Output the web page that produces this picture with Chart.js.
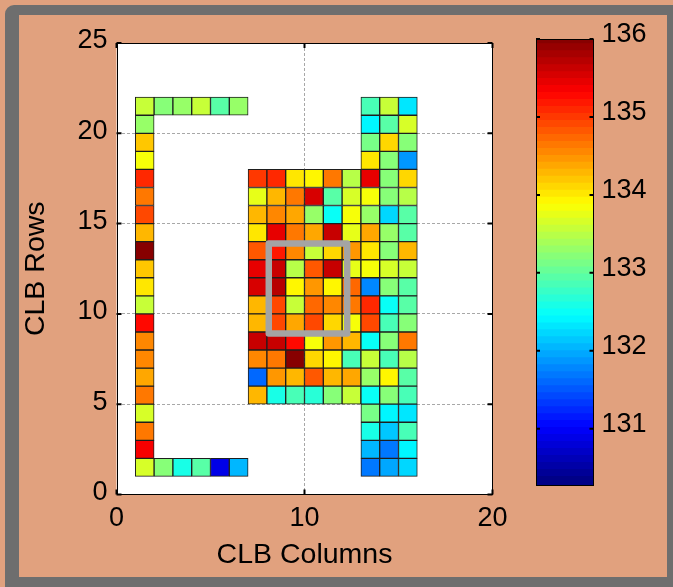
<!DOCTYPE html>
<html>
<head>
<meta charset="utf-8">
<script src="https://cdn.jsdelivr.net/npm/chart.js@4/dist/chart.umd.min.js"></script>
<style>
  html, body { margin: 0; padding: 0; }
  body { width: 673px; height: 587px; background: rgb(225,161,126); position: relative; overflow: hidden; }
  #frame { position: absolute; left: 5px; top: 5px; width: 668px; height: 582px; box-sizing: border-box;
           border-style: solid; border-color: #6e6e6e; border-width: 10px 6px 10px 14px; border-top-left-radius: 9px; }
  #main { position: absolute; left: 0; top: 0; }
  #cbar { position: absolute; left: 520px; top: 0; }
</style>
</head>
<body>
<div id="frame"></div>
<canvas id="main" width="520" height="587"></canvas>
<canvas id="cbar" width="153" height="587"></canvas>
<script>
// ---------------- DATA ----------------
// colour limits of the colorbar
const colorLimits = [130.27, 136.0];
const colorbarTicks = [131, 132, 133, 134, 135, 136];
const xTicks = [0, 10, 20];
const yTicks = [0, 5, 10, 15, 20, 25];

// left column (CLB column 1), rows 1..21 from bottom to top
const leftCol = [133.62, 135.35, 134.57, 133.64, 134.57, 134.35, 134.5, 134.5, 135.28, 133.56,
                 133.95, 134.2, 136.0, 134.28, 134.92, 134.64, 135.07, 133.8, 134.13, 133.28, 133.56];
// bottom row (row 1), columns 2..6
const bottomRow = [133.2, 132.56, 132.92, 130.84, 131.99];
// top row (row 21), columns 2..6
const topRow = [133.2, 133.28, 133.56, 132.92, 133.28];

// middle block, columns 7..12, rows 17 (first) down to 5 (last)
const midRow17 = [135.0, 135.07, 133.99, 133.92, 134.57, 133.42];
const midRow16 = [133.71, 134.28, 134.64, 135.5, 132.92, 133.64];
const midRow15 = [134.21, 134.5, 134.35, 133.28, 132.42, 133.78];
const midRow14 = [133.99, 135.42, 134.64, 134.35, 135.57, 133.71];
const midRow13 = [134.78, 135.14, 134.5, 133.56, 134.06, 134.42];
const midRow12 = [135.42, 135.6, 133.45, 134.78, 135.64, 133.71];
const midRow11 = [135.5, 135.7, 133.88, 134.42, 133.92, 134.71];
const midRow10 = [134.21, 134.92, 133.58, 134.71, 134.5, 134.57];
const midRow9  = [134.21, 134.85, 134.35, 134.92, 134.06, 133.78];
const midRow8  = [135.57, 135.64, 135.21, 133.85, 134.42, 134.21];
const midRow7  = [134.5, 134.64, 136.0, 134.06, 133.92, 132.78];
const midRow6  = [131.56, 134.42, 134.28, 134.78, 134.21, 134.35];
const midRow5  = [134.28, 132.56, 132.78, 132.63, 133.14, 133.56];

// right block, columns 13..15, rows 21 (first) down to 1 (last)
const rightBlock = [
  [132.78, 133.56, 132.28],
  [132.35, 132.92, 133.64],
  [133.07, 134.06, 133.14],
  [133.99, 133.14, 131.85],
  [135.42, 133.2, 134.06],
  [133.85, 133.2, 133.45],
  [133.28, 132.2, 132.92],
  [134.35, 133.28, 132.92],
  [133.99, 133.2, 134.21],
  [133.85, 133.64, 133.56],
  [131.78, 133.14, 132.9],
  [135.1, 132.45, 132.9],
  [134.92, 132.85, 133.2],
  [132.45, 133.14, 134.57],
  [133.56, 132.78, 133.42],
  [133.28, 133.92, 132.92],
  [132.49, 133.14, 132.78],
  [133.07, 132.35, 132.28],
  [132.56, 132.13, 132.78],
  [132.06, 131.7, 132.35],
  [131.63, 131.92, 132.2]
];

// highlighted region (grey box) corners in data units
const boxX = [8.1, 12.27, 12.27, 8.1, 8.1];
const boxY = [8.92, 8.92, 13.9, 13.9, 8.92];

// ---------------- COLOUR MAP ----------------
const NLEV = 64;
function clamp01(v) { return Math.max(0, Math.min(1, v)); }
function jet(t) {
  const r = clamp01(1.5 - Math.abs(4 * t - 3));
  const g = clamp01(1.5 - Math.abs(4 * t - 2));
  const b = clamp01(1.5 - Math.abs(4 * t - 1));
  return 'rgb(' + Math.round(r * 255) + ',' + Math.round(g * 255) + ',' + Math.round(b * 255) + ')';
}
function levelColor(i) { return jet((i + 0.5) / NLEV); }
function valueColor(v) {
  const [lo, hi] = colorLimits;
  let i = Math.floor((v - lo) / (hi - lo) * NLEV);
  i = Math.max(0, Math.min(NLEV - 1, i));
  return levelColor(i);
}

// ---------------- BUILD CELLS ----------------
const cells = [];
const cellColors = [];
function addCell(col, row, v) {
  cells.push({ x: col + 0.5, y: [row, row + 1] });
  cellColors.push(valueColor(v));
}
leftCol.forEach((v, i) => addCell(1, 1 + i, v));
bottomRow.forEach((v, i) => addCell(2 + i, 1, v));
topRow.forEach((v, i) => addCell(2 + i, 21, v));
const midRows = [midRow17, midRow16, midRow15, midRow14, midRow13, midRow12, midRow11,
                 midRow10, midRow9, midRow8, midRow7, midRow6, midRow5];
midRows.forEach((row, r) => row.forEach((v, c) => addCell(7 + c, 17 - r, v)));
rightBlock.forEach((row, r) => row.forEach((v, c) => addCell(13 + c, 21 - r, v)));

const boxPts = boxX.map((x, i) => ({ x: x, y: boxY[i] }));

const FONT = { family: "'Liberation Sans', Arial, Helvetica, sans-serif", size: 27 };
const TITLE_FONT = { family: "'Liberation Sans', Arial, Helvetica, sans-serif", size: 28.5 };

// plugin: white plot background, black box, inward tick marks
const boxPlugin = {
  id: 'boxPlugin',
  beforeDraw(chart, args, opts) {
    const a = chart.chartArea, ctx = chart.ctx;
    ctx.save();
    ctx.fillStyle = opts.fill || '#fff';
    ctx.fillRect(a.left, a.top, a.right - a.left, a.bottom - a.top);
    ctx.restore();
  },
  afterDraw(chart, args, opts) {
    const a = chart.chartArea, ctx = chart.ctx;
    ctx.save();
    ctx.strokeStyle = '#000';
    ctx.lineWidth = 1;
    ctx.strokeRect(Math.round(a.left) + 0.5, Math.round(a.top) + 0.5,
                   Math.round(a.right - a.left) - 1, Math.round(a.bottom - a.top) - 1);
    const L = opts.tick || 4;
    ctx.lineWidth = 2;
    ctx.beginPath();
    Object.values(chart.scales).forEach(s => {
      if (!s.options.display) return;
      s.ticks.forEach(t => {
        const p = s.getPixelForValue(t.value);
        if (s.isHorizontal()) {
          ctx.moveTo(p, a.bottom); ctx.lineTo(p, a.bottom - L);
          ctx.moveTo(p, a.top); ctx.lineTo(p, a.top + L);
        } else {
          ctx.moveTo(a.left, p); ctx.lineTo(a.left + L, p);
          ctx.moveTo(a.right, p); ctx.lineTo(a.right - L, p);
        }
      });
    });
    ctx.stroke();
    ctx.restore();
  }
};

new Chart(document.getElementById('main'), {
  type: 'bar',
  data: {
    datasets: [
      { type: 'line', data: boxPts, borderColor: '#a4a4a4', borderWidth: 6.5, pointRadius: 0,
        borderJoinStyle: 'round', borderCapStyle: 'round', tension: 0, order: 0 },
      { type: 'bar', data: cells, backgroundColor: cellColors, borderColor: '#1e1e1e', borderWidth: 1,
        borderSkipped: false, barPercentage: 1, categoryPercentage: 1, order: 1 }
    ]
  },
  plugins: [boxPlugin],
  options: {
    responsive: false, animation: false, devicePixelRatio: 1,
    layout: { padding: { top: 43, right: 27.5, left: 0, bottom: 0 } },
    plugins: { legend: { display: false }, tooltip: { enabled: false }, boxPlugin: { tick: 5 } },
    scales: {
      x: {
        type: 'linear', min: xTicks[0], max: xTicks[xTicks.length - 1], offset: false,
        afterBuildTicks: s => { s.ticks = xTicks.map(v => ({ value: v })); },
        ticks: { font: FONT, color: '#000', padding: 8, maxRotation: 0 },
        grid: { offset: false, drawTicks: false, color: ctx => (ctx.tick && ctx.tick.value === 10) ? '#a8a8a8' : 'rgba(0,0,0,0)', lineWidth: 1 },
        border: { display: false, dash: [3, 2] },
        title: { display: true, text: 'CLB Columns', font: TITLE_FONT, color: '#000', padding: { top: 0, bottom: 15 } },
        afterFit: s => { s.height = 92.5; }
      },
      y: {
        type: 'linear', min: yTicks[0], max: yTicks[yTicks.length - 1],
        afterBuildTicks: s => { s.ticks = yTicks.map(v => ({ value: v })); },
        ticks: { font: FONT, color: '#000', padding: 9, labelOffset: -2 },
        grid: { drawTicks: false, color: ctx => (ctx.tick && ctx.tick.value > 0 && ctx.tick.value < 25) ? '#a8a8a8' : 'rgba(0,0,0,0)', lineWidth: 1 },
        border: { display: false, dash: [3, 2] },
        title: { display: true, text: 'CLB Rows', font: TITLE_FONT, color: '#000', padding: { top: 19, bottom: 0 } },
        afterFit: s => { s.width = 116.5; }
      }
    }
  }
});

// ---------------- COLORBAR ----------------
const [cmin, cmax] = colorLimits;
const step = (cmax - cmin) / NLEV;
const cbDatasets = [];
for (let i = 0; i < NLEV; i++) {
  const lo = cmin + i * step;
  const hi = Math.min(cmax, lo + step * 1.35);
  cbDatasets.push({ data: [[lo, hi]], backgroundColor: levelColor(i), borderWidth: 0,
                    barPercentage: 1, categoryPercentage: 1, grouped: false });
}

new Chart(document.getElementById('cbar'), {
  type: 'bar',
  data: { labels: [''], datasets: cbDatasets },
  plugins: [boxPlugin],
  options: {
    responsive: false, animation: false, devicePixelRatio: 1,
    layout: { padding: { top: 39, left: 16, right: 0, bottom: 101.3 } },
    plugins: { legend: { display: false }, tooltip: { enabled: false }, boxPlugin: { tick: 4, fill: '#fff' } },
    scales: {
      x: { display: false },
      y: {
        type: 'linear', position: 'right', min: cmin, max: cmax,
        afterBuildTicks: s => { s.ticks = colorbarTicks.map(v => ({ value: v })); },
        ticks: { font: FONT, color: '#000', padding: 8, labelOffset: -4 },
        grid: { display: false, drawTicks: false },
        border: { display: false },
        afterFit: s => { s.width = 79.5; }
      }
    }
  }
});
</script>
</body>
</html>
